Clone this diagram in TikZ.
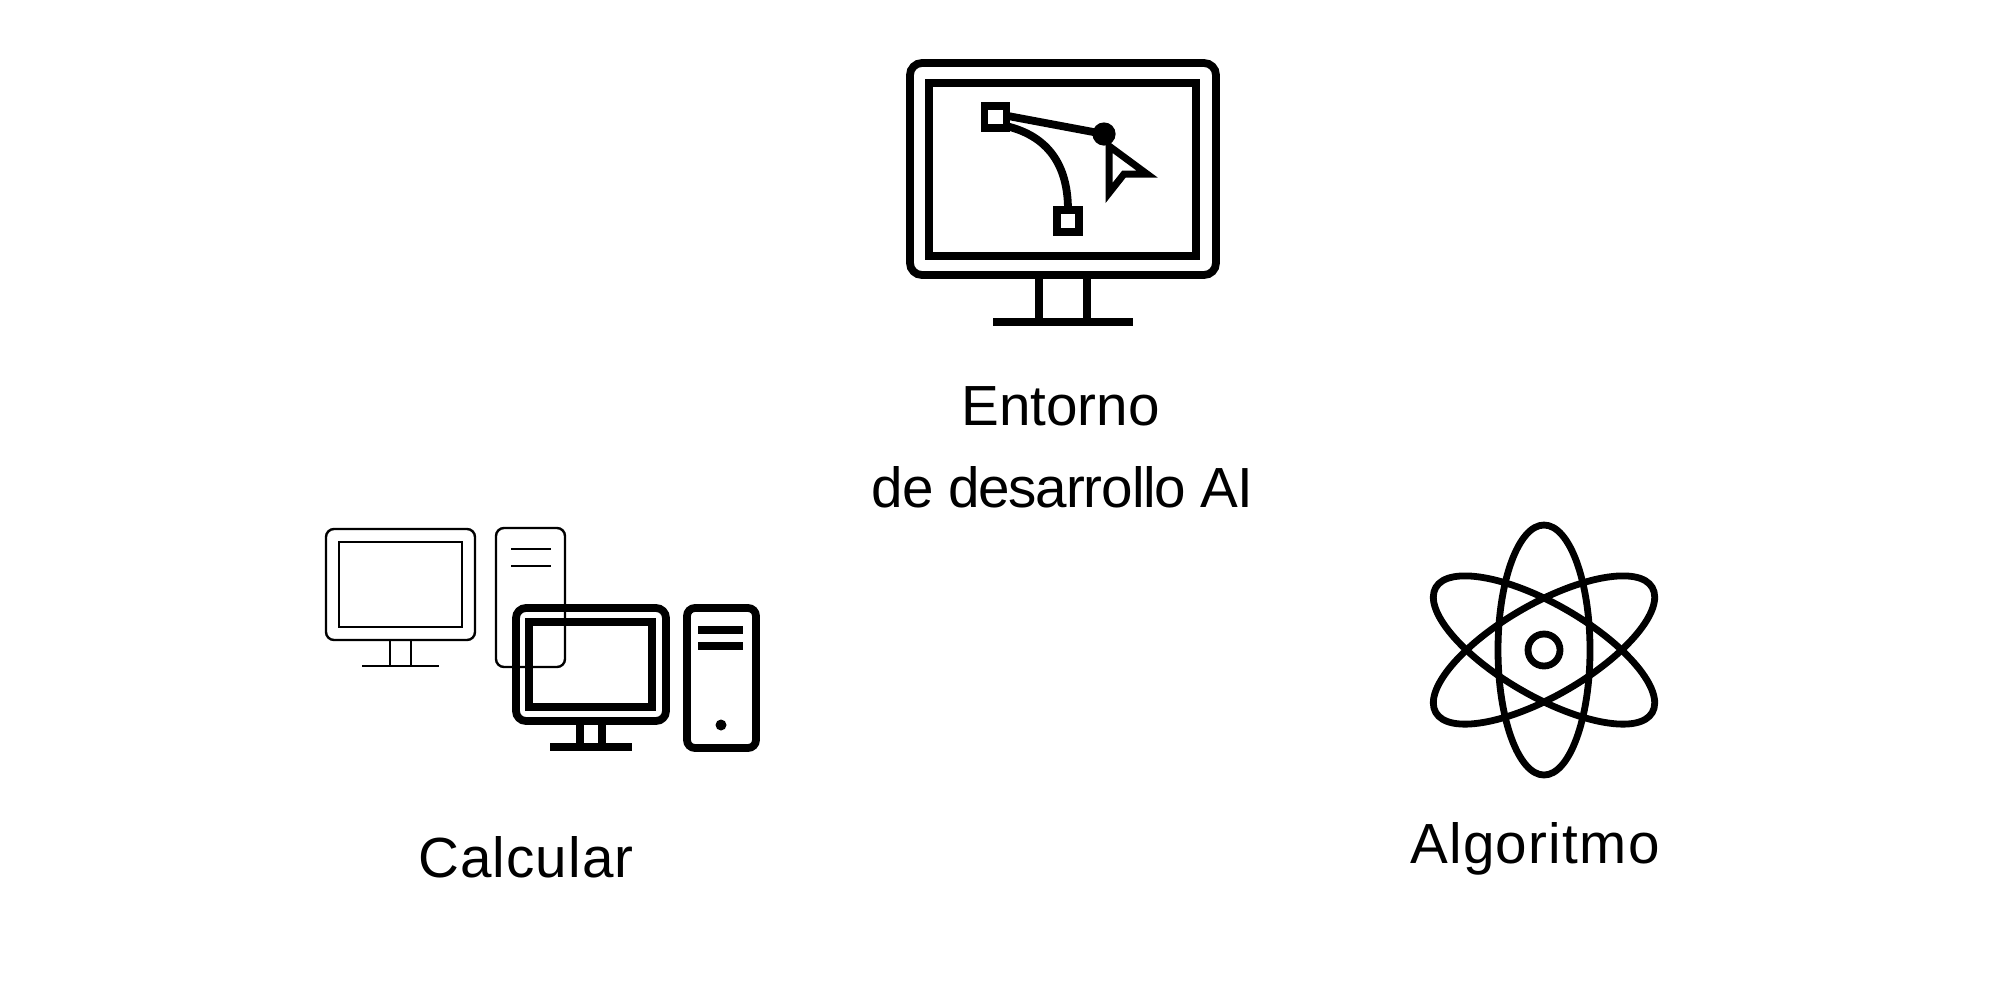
\documentclass[tikz,border=0pt]{standalone}
\usepackage{fontspec}
\setmainfont{Liberation Sans}
\tikzset{thickline/.style={line width=3.9pt,line join=miter},
         thinline/.style={line width=1.2pt},
         atomline/.style={line width=3.4pt},
         caption/.style={anchor=base,inner sep=0pt,font=\fontsize{28.3}{34}\selectfont}}
\begin{document}
\begin{tikzpicture}[x=0.5pt,y=-0.5pt]
\useasboundingbox (0,0) rectangle (2012,992);
% top monitor
\draw[thickline,rounded corners=6pt] (910,63) rectangle (1216,275);
\draw[thickline] (929,83) rectangle (1196,256);
\draw[thickline] (1039,275)--(1039,322) (1087,275)--(1087,322);
\draw[thickline] (993,322)--(1133,322);
\draw[thickline] (984.5,106) rectangle (1006.5,128);
\draw[thickline] (1057,210) rectangle (1079,232);
\draw[thickline] (1008,116)--(1104,134);
\draw[thickline] (1006,126) .. controls (1048,136) and (1068,165) .. (1068,210);
\fill (1104,134) circle [radius=11.6];
\draw[line width=3.5pt,line join=miter] (1109,146)--(1147,174)--(1124,174)--(1109,193)--cycle;
% computers, thin pair
\draw[thinline,rounded corners=4pt] (326,529) rectangle (475,640);
\draw[thinline] (339,542) rectangle (462,627);
\draw[thinline] (390,640)--(390,666) (411,640)--(411,666);
\draw[thinline] (362,666)--(439,666);
\draw[thinline,rounded corners=4pt] (496,528) rectangle (565,667);
\draw[thinline] (511,549)--(551,549) (511,566)--(551,566);
% computers, thick pair
\draw[thickline,rounded corners=5pt] (516,608) rectangle (666,721);
\draw[thickline] (529,622) rectangle (652,707);
\draw[thickline] (580,721)--(580,747) (602,721)--(602,747);
\draw[thickline] (550,747)--(632,747);
\draw[thickline,rounded corners=4pt] (687,608) rectangle (756,748);
\draw[thickline] (698,630)--(743,630) (698,646)--(743,646);
\fill (721,725) circle [radius=5.5];
% atom
\foreach \ang in {0,60,-60}
  \draw[atomline] (1544,650) ellipse [x radius=46,y radius=125,rotate=\ang];
\draw[atomline] (1544,650) circle [radius=16];
% labels
\node[caption] (entorno) at (1060.5,425) {Entorno};
\node[caption] (desarrollo) at (1062.5,507) {\addfontfeature{LetterSpace=-2}de desarrollo AI};
\node[caption] (calcular) at (526,877) {\addfontfeature{LetterSpace=2}Calcular};
\node[caption] (algoritmo) at (1535,863) {\addfontfeature{LetterSpace=2.4}Algoritmo};
\end{tikzpicture}
\end{document}
